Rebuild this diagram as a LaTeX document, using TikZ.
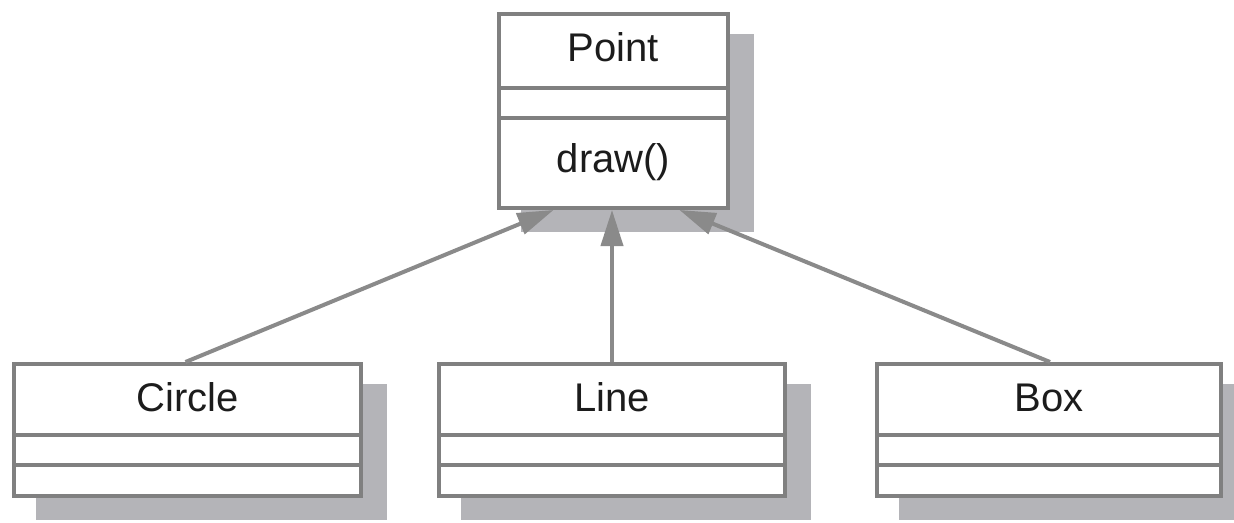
\documentclass[tikz,border=0pt]{standalone}
\usepackage{fontspec}
\setmainfont{Liberation Sans}
\usetikzlibrary{shadows,calc,arrows.meta}

\definecolor{edgegray}{RGB}{128,128,128}
\definecolor{arrowgray}{RGB}{138,138,138}
\definecolor{shadegray}{RGB}{180,180,184}
\definecolor{inkgray}{RGB}{28,28,28}

\tikzset{
  classbox/.style={
    draw=edgegray, line width=4pt, fill=white, rectangle, inner sep=0pt,
    general shadow={fill=shadegray, draw=shadegray, line width=4pt,
                    shadow xshift=24pt, shadow yshift=-22pt}
  },
  divider/.style={draw=edgegray, line width=4pt},
  classtext/.style={anchor=base, text=inkgray, inner sep=0pt,
                    font=\fontsize{40}{48}\selectfont},
  inherits/.style={draw=arrowgray, line width=4pt,
                   -{Triangle[length=36pt,width=22pt]}}
}

\begin{document}
\begin{tikzpicture}[x=1pt,y=-1pt]
\useasboundingbox (0,0) rectangle (1234,522);

% superclass
\node[classbox, minimum width=229pt, minimum height=194pt] (point) at (613.5,111) {};
\draw[divider] ($(point.north west)+(0,76)$) -- ($(point.north east)+(0,76)$);
\draw[divider] ($(point.north west)+(0,106)$) -- ($(point.north east)+(0,106)$);
\node[classtext] (pointname) at ($(point.north)+(0,49)$) {Point};
\node[classtext] (pointop) at ($(point.north)+(0,160)$) {draw()};

% subclasses
\node[classbox, minimum width=347pt, minimum height=132pt] (circle) at (187.5,430) {};
\node[classbox, minimum width=346pt, minimum height=132pt] (line) at (612,430) {};
\node[classbox, minimum width=344pt, minimum height=132pt] (box) at (1049,430) {};

\foreach \c/\t in {circle/Circle, line/Line, box/Box}{
  \draw[divider] ($(\c.north west)+(0,73)$) -- ($(\c.north east)+(0,73)$);
  \draw[divider] ($(\c.north west)+(0,103)$) -- ($(\c.north east)+(0,103)$);
  \node[classtext] (\c name) at ($(\c.north)+(0,49)$) {\t};
}

% generalisation connectors
\coordinate (tipL) at ($(point.south)+(-60,0)$);
\coordinate (tipM) at ($(point.south)+(-1.5,0)$);
\coordinate (tipR) at ($(point.south)+(66,0)$);
\draw[inherits] ($(circle.north)+(-2,0)$) -- (tipL);
\draw[inherits] (line.north) -- (tipM);
\draw[inherits] ($(box.north)+(1,0)$) -- (tipR);
\end{tikzpicture}
\end{document}
